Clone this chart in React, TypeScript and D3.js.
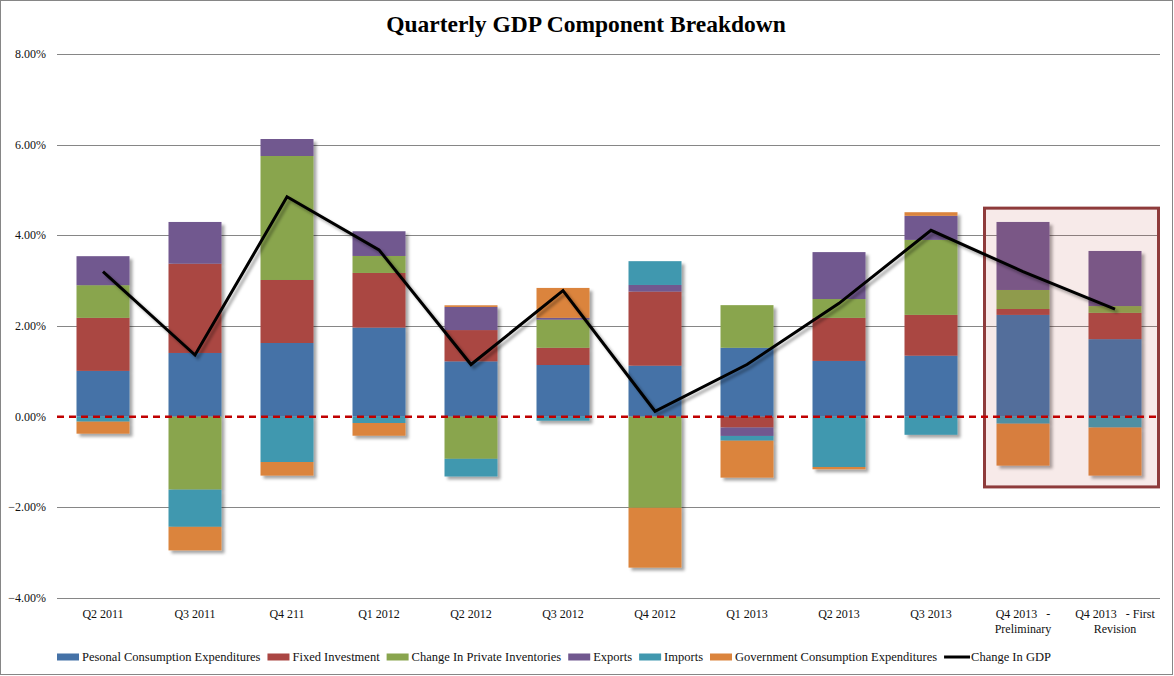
import React, { useEffect, useRef } from 'react';
import * as d3 from 'd3';

const categories = [
  'Q2 2011', 'Q3 2011', 'Q4 211', 'Q1 2012', 'Q2 2012', 'Q3 2012',
  'Q4 2012', 'Q1 2013', 'Q2 2013', 'Q3 2013', 'Q4 2013 - Preliminary', 'Q4 2013 - First Revision',
];

// category label lines (as printed under the axis)
const categoryLabels = [
  ['Q2 2011'], ['Q3 2011'], ['Q4 211'], ['Q1 2012'], ['Q2 2012'], ['Q3 2012'],
  ['Q4 2012'], ['Q1 2013'], ['Q2 2013'], ['Q3 2013'],
  ['Q4 2013   -', 'Preliminary'], ['Q4 2013   - First', 'Revision'],
];

const seriesNames = [
  'Pesonal Consumption Expenditures',
  'Fixed Investment',
  'Change In Private Inventories',
  'Exports',
  'Imports',
  'Government Consumption Expenditures',
];

const personalConsumption = [1.01, 1.405, 1.625, 1.965, 1.22, 1.14, 1.125, 1.52, 1.23, 1.345, 2.245, 1.71];
const fixedInvestment = [1.17, 1.97, 1.39, 1.205, 0.69, 0.38, 1.635, -0.24, 0.95, 0.9, 0.13, 0.58];
const privateInventories = [0.72, -1.61, 2.735, 0.375, -0.93, 0.62, -2.01, 0.94, 0.415, 1.655, 0.42, 0.15];
const exportsVals = [0.64, 0.92, 0.375, 0.545, 0.51, 0.04, 0.145, -0.185, 1.035, 0.53, 1.5, 1.215];
const importsVals = [-0.11, -0.82, -1.0, -0.14, -0.39, -0.09, 0.525, -0.105, -1.11, -0.4, -0.155, -0.24];
const governmentVals = [-0.265, -0.52, -0.3, -0.28, 0.037, 0.66, -1.32, -0.815, -0.05, 0.08, -0.925, -1.06];

const gdpChange = [3.2, 1.36, 4.85, 3.68, 1.15, 2.78, 0.12, 1.15, 2.5, 4.11, 3.2, 2.37];

const yTicks = [-4, -2, 0, 2, 4, 6, 8];

const colors = ['#4572A7', '#AA4643', '#89A54E', '#71588F', '#4198AF', '#DB843D'];

const W = 1174;
const H = 676;
const FONT = '"Liberation Serif", "DejaVu Serif", serif';

const App: React.FC = () => {
  const svgRef = useRef<SVGSVGElement>(null);

  useEffect(() => {
    if (!svgRef.current) return;
    const svg = d3.select(svgRef.current);
    svg.selectAll('*').remove();

    const columns = [personalConsumption, fixedInvestment, privateInventories, exportsVals, importsVals, governmentVals];
    const rows = categories.map((c, i) => {
      const r: any = { cat: c };
      seriesNames.forEach((s, j) => { r[s] = columns[j][i]; });
      return r;
    });

    const x = d3.scaleBand<string>()
      .domain(categories)
      .range([57, 1161])
      .paddingInner(0.424)
      .paddingOuter(0.212);
    const y = d3.scaleLinear().domain([-4, 8]).range([598, 54]);

    const defs = svg.append('defs');
    const sh = defs.append('filter').attr('id', 'shadow')
      .attr('x', '-20%').attr('y', '-20%').attr('width', '150%').attr('height', '150%');
    sh.append('feDropShadow').attr('dx', 3).attr('dy', 3).attr('stdDeviation', 1.6)
      .attr('flood-color', '#000').attr('flood-opacity', 0.35);

    // frame
    svg.append('rect')
      .attr('x', 0.5).attr('y', 0.5).attr('width', W - 2).attr('height', H - 2)
      .attr('fill', '#fff').attr('stroke', '#868686');

    // title
    svg.append('text')
      .attr('x', 586).attr('y', 32)
      .attr('text-anchor', 'middle')
      .style('font-family', FONT)
      .style('font-size', '23.5px')
      .style('font-weight', 'bold')
      .text('Quarterly GDP Component Breakdown');

    // gridlines + y labels
    const [x0, x1] = x.range();
    yTicks.forEach((t) => {
      if (t !== 0) {
        svg.append('line')
          .attr('x1', x0).attr('x2', x1 - 1)
          .attr('y1', Math.round(y(t)) + 0.5).attr('y2', Math.round(y(t)) + 0.5)
          .attr('stroke', '#868686').attr('stroke-width', 1);
      }
      svg.append('text')
        .attr('x', 46).attr('y', y(t) + 4)
        .attr('text-anchor', 'end')
        .style('font-family', FONT)
        .style('font-size', '12px')
        .attr('fill', '#111')
        .text(d3.format('.2f')(t) + '%');
    });

    // stacked bars
    const stack = d3.stack<any>().keys(seriesNames).offset(d3.stackOffsetDiverging);
    const stacked = stack(rows);
    const barG = svg.append('g');
    stacked.forEach((layer, li) => {
      barG.append('g')
        .attr('fill', colors[li])
        .selectAll('rect')
        .data(layer)
        .join('rect')
        .attr('x', (d: any) => x(d.data.cat)!)
        .attr('width', x.bandwidth())
        .attr('y', (d: any) => y(Math.max(d[0], d[1])))
        .attr('height', (d: any) => Math.abs(y(d[0]) - y(d[1])));
    });
    barG.attr('filter', 'url(#shadow)');

    // highlight box around Q4 2013 bars
    const bx0 = x(categories[10])! - 12;
    const bx1 = x(categories[11])! + x.bandwidth() + 17;
    const by0 = y(4.6);
    const by1 = y(-1.55);
    svg.append('rect')
      .attr('x', bx0).attr('y', by0)
      .attr('width', bx1 - bx0).attr('height', by1 - by0)
      .attr('fill', '#C0504D').attr('fill-opacity', 0.12)
      .attr('stroke', '#8E3B3B').attr('stroke-width', 3);

    // zero line
    svg.append('line')
      .attr('x1', x0).attr('x2', x1)
      .attr('y1', y(0)).attr('y2', y(0))
      .attr('stroke', '#C00000').attr('stroke-width', 2.5)
      .attr('stroke-dasharray', '7,5');

    // GDP line
    const line = d3.line<number>()
      .x((_, i) => x(categories[i])! + x.bandwidth() / 2)
      .y((d) => y(d));
    svg.append('path')
      .datum(gdpChange)
      .attr('d', line)
      .attr('fill', 'none')
      .attr('stroke', '#000')
      .attr('stroke-width', 3)
      .attr('stroke-linejoin', 'miter')
      .attr('filter', 'url(#shadow)');

    // x labels
    categories.forEach((c, i) => {
      const cx = x(c)! + x.bandwidth() / 2;
      categoryLabels[i].forEach((ln, k) => {
        svg.append('text')
          .attr('x', cx).attr('y', 618 + k * 15)
          .attr('text-anchor', 'middle')
          .style('font-family', FONT)
          .style('font-size', '12px')
          .style('white-space', 'pre')
          .attr('fill', '#111')
          .text(ln);
      });
    });

    // legend
    const leg = svg.append('g').attr('transform', 'translate(57,657)');
    let lx = 0;
    const items = [...seriesNames.map((s, i) => ({ name: s, color: colors[i], isLine: false })),
      { name: 'Change In GDP', color: '#000', isLine: true }];
    items.forEach((it) => {
      const g = leg.append('g').attr('transform', `translate(${lx},0)`);
      if (it.isLine) {
        g.append('line').attr('x1', 0).attr('x2', 26).attr('y1', 0).attr('y2', 0)
          .attr('stroke', '#000').attr('stroke-width', 3);
      } else {
        g.append('rect').attr('x', 0).attr('y', -3.5).attr('width', 22).attr('height', 7)
          .attr('fill', it.color);
      }
      const sw = it.isLine ? 27 : 25;
      const t = g.append('text')
        .attr('x', sw).attr('y', 4)
        .style('font-family', FONT)
        .style('font-size', '12.5px')
        .attr('fill', '#111')
        .text(it.name);
      const tw = (t.node() as SVGTextElement).getComputedTextLength();
      lx += sw + tw + 7;
    });
  }, []);

  return (
    <svg
      ref={svgRef}
      width={W}
      height={H}
      style={{ position: 'absolute', left: 0, top: 0, display: 'block' }}
    />
  );
};

export default App;
